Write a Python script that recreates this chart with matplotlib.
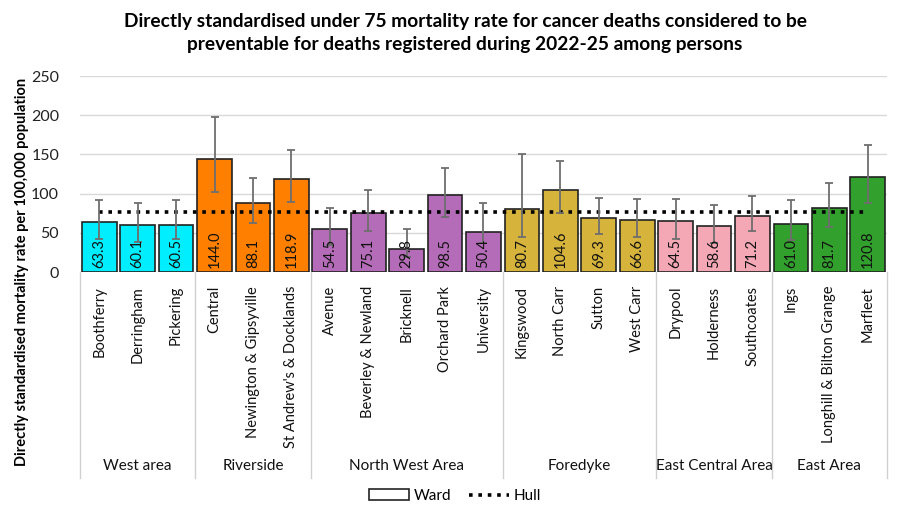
import matplotlib
matplotlib.use('Agg')
import matplotlib.pyplot as plt
from matplotlib.patches import Patch
from matplotlib.lines import Line2D
import numpy as np

plt.rcParams['font.family'] = ['Lato', 'DejaVu Sans']

# ---- data ----
wards = ['Boothferry', 'Derringham', 'Pickering',
         'Central', 'Newington & Gipsyville', "St Andrew's & Docklands",
         'Avenue', 'Beverley & Newland', 'Bricknell', 'Orchard Park', 'University',
         'Kingswood', 'North Carr', 'Sutton', 'West Carr',
         'Drypool', 'Holderness', 'Southcoates',
         'Ings', 'Longhill & Bilton Grange', 'Marfleet']
areas = ['West area', 'Riverside', 'North West Area', 'Foredyke',
         'East Central Area', 'East Area']
area_sizes = [3, 3, 5, 4, 3, 3]
area_colors = ['#00EEFF', '#FF8000', '#B56CB8', '#D6B43C', '#F4A7B5', '#32A02C']

rates = [63.3, 60.1, 60.5,
         144.0, 88.1, 118.9,
         54.5, 75.1, 29.8, 98.5, 50.4,
         80.7, 104.6, 69.3, 66.6,
         64.5, 58.6, 71.2,
         61.0, 81.7, 120.8]
lower_ci = [42.5, 38.5, 42.0,
            102.0, 63.0, 89.0,
            34.0, 52.0, 19.0, 70.5, 37.0,
            45.0, 75.7, 48.5, 45.0,
            42.0, 37.0, 52.0,
            41.0, 57.0, 88.5]
upper_ci = [92.0, 88.0, 92.0,
            198.0, 120.0, 155.0,
            82.0, 105.0, 55.0, 133.0, 88.0,
            150.5, 141.5, 95.0, 93.5,
            93.5, 85.5, 97.5,
            92.0, 113.0, 162.5]
hull_rate = 76.1

# ---- plot ----
W, H = 902, 519
fig = plt.figure(figsize=(W / 100, H / 100), dpi=100)
ax = fig.add_axes([80 / W, (H - 272) / H, 807 / W, 196 / H])

x = np.arange(len(wards))
colors = []
for c, n in zip(area_colors, area_sizes):
    colors += [c] * n

ax.bar(x, rates, width=0.9, color=colors, edgecolor='#222222', linewidth=1.2, zorder=2)
yerr = [np.array(rates) - np.array(lower_ci), np.array(upper_ci) - np.array(rates)]
ax.errorbar(x, rates, yerr=yerr, fmt='none', ecolor='#6E6E6E', elinewidth=1.3,
            capsize=3, capthick=1.3, zorder=4)
ax.plot([x[0], x[-1]], [hull_rate, hull_rate], color='black', linestyle=(0, (1, 1.6)),
        linewidth=2.6, zorder=3)

for xi, v in zip(x, rates):
    ax.text(xi, 5, f'{v:.1f}', rotation=90, ha='center', va='bottom', fontsize=10.5,
            color='#111111', zorder=5)

ax.set_xlim(-0.5, len(wards) - 0.5)
ax.set_ylim(0, 250)
ax.set_yticks([0, 50, 100, 150, 200, 250])
ax.yaxis.grid(True, color='#D9D9D9', linewidth=1)
ax.set_axisbelow(True)
for s in ax.spines.values():
    s.set_visible(False)
ax.tick_params(axis='y', length=0, pad=15, labelsize=11.5, labelcolor='#222222')
ax.set_xticks(x)
ax.set_xticklabels(wards, rotation=90, fontsize=10.5, color='#111111')
ax.tick_params(axis='x', length=0, pad=10)

fig.text(22 / W, 1 - 272 / H,
         'Directly standardised mortality rate per 100,000 population',
         rotation=90, ha='center', va='center', fontsize=10.5, fontweight='bold')

# group separators and labels
trans = ax.get_xaxis_transform()
bounds = np.concatenate([[0], np.cumsum(area_sizes)]) - 0.5
for b in bounds:
    ax.plot([b, b], [0, -(478 - 272) / 196], color='#D0D0D0', linewidth=1,
            transform=trans, clip_on=False)
for i, name in enumerate(areas):
    mid = (bounds[i] + bounds[i + 1]) / 2
    ax.text(mid, -(466 - 272) / 196, name, ha='center', va='center', fontsize=11,
            transform=trans, color='#111111')

fig.text(465 / W, 1 - 33 / H,
         'Directly standardised under 75 mortality rate for cancer deaths considered to be\n'
         'preventable for deaths registered during 2022-25 among persons',
         ha='center', va='center', fontsize=13.8, fontweight='bold', linespacing=1.45)

handles = [Patch(facecolor='white', edgecolor='#222222', linewidth=1.2),
           Line2D([0], [0], color='black', linestyle=(0, (1, 1.6)), linewidth=2.6)]
fig.legend(handles, ['Ward', 'Hull'], loc='center', bbox_to_anchor=(455 / W, 1 - 496 / H),
           ncol=2, frameon=False, fontsize=11, handlelength=2.6, columnspacing=1.2,
           handletextpad=0.3)

fig.savefig('out.png', dpi=100)
